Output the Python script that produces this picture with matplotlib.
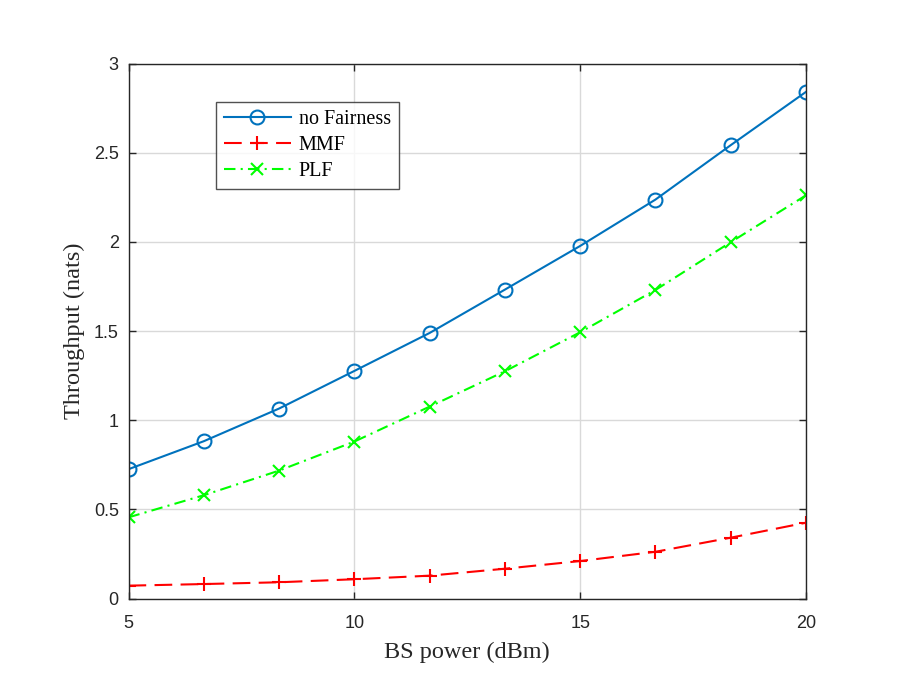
import numpy as np
import matplotlib
matplotlib.use("Agg")
import matplotlib.pyplot as plt

bs_power = [5, 6.667, 8.333, 10, 11.667, 13.333, 15, 16.667, 18.333, 20]
no_fairness = [0.725, 0.882, 1.065, 1.276, 1.489, 1.732, 1.977, 2.237, 2.542, 2.841]
mmf = [0.072, 0.081, 0.091, 0.108, 0.128, 0.167, 0.210, 0.262, 0.341, 0.425]
plf = [0.455, 0.579, 0.717, 0.880, 1.076, 1.274, 1.493, 1.730, 1.998, 2.261]
xticks = [5, 10, 15, 20]
yticks = [0, 0.5, 1, 1.5, 2, 2.5, 3]
ytick_labels = ["0", "0.5", "1", "1.5", "2", "2.5", "3"]

fig = plt.figure(figsize=(9, 6.9), dpi=100)
ax = fig.add_axes([128.5/900, 1-598.5/690, (806-128.5)/900, (598.5-63.5)/690])

ax.plot(bs_power, no_fairness, '-', color=(0, 0.447, 0.741), lw=1.5, marker='o',
        ms=10, mfc='none', mew=1.5, label='no Fairness')
ax.plot(bs_power, mmf, color='red', lw=1.5, ls=(0, (8.5, 4)), marker='+', ms=10.5, mew=1.5,
        label='MMF')
ax.plot(bs_power, plf, color=(0, 1, 0), lw=1.5, ls=(0, (5.5, 2.5, 1, 2.5)), marker='x', ms=9,
        mew=1.5, label='PLF')

ax.set_xlim(5, 20)
ax.set_ylim(0, 3)
ax.set_xticks(xticks)
ax.set_xticklabels([str(t) for t in xticks])
ax.set_yticks(yticks)
ax.set_yticklabels(ytick_labels)
ax.grid(True, color=(0.85, 0.85, 0.85), lw=1)
ax.set_axisbelow(True)
ax.tick_params(direction='in', top=True, right=True, length=5, width=1,
               colors=(0.15, 0.15, 0.15), labelsize=13)
ax.tick_params(axis='x', pad=12)
ax.tick_params(axis='y', pad=7)
for lab in ax.get_xticklabels() + ax.get_yticklabels():
    lab.set_fontfamily('Liberation Sans')
for sp in ax.spines.values():
    sp.set_color((0.15, 0.15, 0.15))
    sp.set_linewidth(1)

ax.set_xlabel('BS power (dBm)', fontfamily='Liberation Serif', fontsize=17.5,
              color=(0.15, 0.15, 0.15), labelpad=7)
ax.set_ylabel('Throughput (nats)', fontfamily='Liberation Serif', fontsize=17.5,
              color=(0.15, 0.15, 0.15), labelpad=6)

leg = ax.legend(loc='upper left', bbox_to_anchor=((215.7-128.5)/677.5, 1-(101.7-63.5)/535),
                prop={'family': 'Liberation Serif', 'size': 14.5}, frameon=True, fancybox=False,
                edgecolor=(0.15, 0.15, 0.15), handlelength=3.3, borderaxespad=0,
                labelspacing=0.33, handletextpad=0.4, borderpad=0.42)
leg.get_frame().set_linewidth(1)

fig.savefig('out.png', dpi=100)
